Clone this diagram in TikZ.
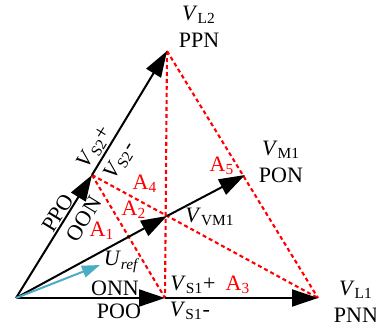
\documentclass[tikz,border=0pt]{standalone}
\usepackage{fontspec}
\setmainfont{Liberation Serif}
\usetikzlibrary{arrows.meta, positioning}
\definecolor{refcyan}{RGB}{75,172,198}

\newcommand{\vlab}[1]{\textit{V}\textsubscript{#1}}

\begin{document}
\begin{tikzpicture}[x=0.5pt, y=-0.5pt, font=\fontsize{11}{13}\selectfont,
    arr/.style={-{Triangle[length=13pt,width=8.5pt]}, line width=1pt},
    refarr/.style={-{Triangle[length=9pt,width=6pt]}, line width=1pt, refcyan},
    sect/.style={red, dash pattern=on 2pt off 1.5pt, line width=1.05pt},
    lbl/.style={inner sep=0pt},
    area/.style={lbl, text=red},
    tilt/.style={lbl, rotate=58.6}]
  \useasboundingbox (0,0) rectangle (376,326);

  % vectors
  \coordinate (O)   at (16,298);
  \coordinate (S1)  at (165,298);
  \coordinate (L1)  at (318,298);
  \coordinate (S2)  at (92,175);
  \coordinate (L2)  at (167,51);
  \coordinate (VM1) at (167,216);
  \coordinate (M1)  at (245,175);
  \coordinate (ref) at (100,265);

  % sector boundaries
  \draw[sect] (L2) -- (S1);
  \draw[sect] (L2) -- (L1);
  \draw[sect] (S2) -- (S1);
  \draw[sect] (S2) -- (L1);

  \draw[arr] (O) -- (S1);
  \draw[arr] (S1) -- (L1);
  \draw[arr] (O) -- (S2);
  \draw[arr] (S2) -- (L2);
  \draw[arr] (O) -- (VM1);
  \draw[arr] (VM1) -- (M1);
  \draw[refarr] (O) -- (ref);

  % labels
  \node[lbl] (vl2) at (199,15) {\vlab{L2}};
  \node[lbl, below=4pt of vl2] (ppn) {PPN};
  \node[lbl] (vm1) at (281,150) {\vlab{M1}};
  \node[lbl, below=4pt of vm1] (pon) {PON};
  \node[lbl] (vl1) at (356,290) {\vlab{L1}};
  \node[lbl, below=4pt of vl1] (pnn) {PNN};
  \node[lbl] (vs1p) at (193,285) {\vlab{S1}+};
  \node[lbl] (vs1m) at (190,311) {\vlab{S1}-};
  \node[lbl] (onn) at (115,288) {ONN};
  \node[lbl] (poo) at (119,311) {POO};
  \node[lbl] (vvm1) at (210,217) {\vlab{VM1}};
  \node[lbl] (uref) at (122,262) {\textit{U}\textsubscript{\textit{ref}}};
  \node[tilt] (ppo) at (58,213) {PPO};
  \node[tilt] (oon) at (84,219) {OON};
  \node[tilt] (vs2p) at (95,147) {\vlab{S2}+};
  \node[tilt] (vs2m) at (120,161) {\vlab{S2}-};

  \node[area] (a1) at (102,231) {A\textsubscript{1}};
  \node[area] (a2) at (134,210) {A\textsubscript{2}};
  \node[area] (a3) at (238,285) {A\textsubscript{3}};
  \node[area] (a4) at (145,184) {A\textsubscript{4}};
  \node[area] (a5) at (222,166) {A\textsubscript{5}};
\end{tikzpicture}
\end{document}
